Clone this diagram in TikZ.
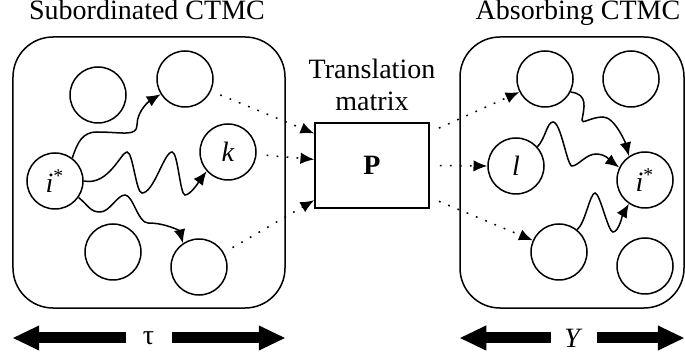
\documentclass[tikz,border=0pt]{standalone}
\usepackage{fontspec}
\setmainfont{Liberation Serif}
\usetikzlibrary{arrows.meta}
\usetikzlibrary{positioning}

\begin{document}
\begin{tikzpicture}[
  x=0.4pt, y=-0.4pt,
  every node/.style={font=\fontsize{11.2pt}{12.8pt}\selectfont},
  state/.style={draw, circle, line width=0.6pt, minimum size=22.4pt, inner sep=0pt},
  chain/.style={draw, line width=0.6pt, rounded corners=16pt, minimum height=108.4pt},
  hop/.style={line width=0.6pt, -{Latex[length=5.5pt,width=4.6pt]}},
  jump/.style={hop, dash pattern=on 0.7pt off 3.3pt, shorten <=4pt},
  span/.style={line width=4.4pt, -{Triangle[length=10.8pt,width=9.2pt]}},
  spanlabel/.style={inner sep=0pt, minimum width=18pt}
]
\useasboundingbox (0,0) rectangle (685,358);

% Chains
\node[chain, minimum width=108.8pt] (lbox) at (149,172.5) {};
\node[chain, minimum width=89.6pt] (rbox) at (572,172.5) {};
\node[anchor=base] (ltitle) at (147,20) {Subordinated CTMC};
\node[anchor=base] (rtitle) at (578,20) {Absorbing CTMC};

% Subordinated chain states
\node[state] (si) at (55,181) {\textit{i}\textsuperscript{*}};
\node[state] (s1) at (98,95) {};
\node[state] (s2) at (185,79) {};
\node[state] (sk) at (228,152) {\textit{k}};
\node[state] (s3) at (113,252) {};
\node[state] (s4) at (199,267) {};

% Absorbing chain states
\node[state] (r1) at (545,79) {};
\node[state] (r2) at (631,79) {};
\node[state] (rl) at (516,166) {\textit{l}};
\node[state] (ri) at (645,180) {\textit{i}\textsuperscript{*}};
\node[state] (r3) at (559,252) {};
\node[state] (r4) at (645,266) {};

% Translation matrix
\node[draw, line width=0.6pt, minimum width=45.6pt, minimum height=34pt] (pm) at (372,165.5) {\textbf{P}};
\node[above=4.4pt of pm, align=center, inner sep=0pt] (plabel) {Translation\\matrix};

% Paths inside the subordinated chain
\draw[hop] (si.53) .. controls +(5,-15) and +(-15,0) .. (97,132)
  .. controls +(25,0) and +(0,12) .. (137,125)
  .. controls +(0,-15) and +(-10,6) .. (s2.212);
\draw[hop] (si.east) .. controls +(25,5) and +(-6,0) .. (127,152)
  .. controls +(6,0) and +(-6,0) .. (142,193)
  .. controls +(12,0) and +(-8,0) .. (172,152)
  .. controls +(6,0) and +(-5,0) .. (185,195)
  .. controls +(6,0) and +(-6,8) .. (sk.222);
\draw[hop] (si.-35) .. controls +(10,8) and +(-10,0) .. (100,212)
  .. controls +(10,0) and +(-8,0) .. (125,195)
  .. controls +(8,0) and +(-10,0) .. (148,223)
  .. controls +(18,0) and +(-3,-12) .. (s4.124);

% Paths inside the absorbing chain
\draw[hop] (r1.-27) .. controls +(18,2) and +(2,-12) .. (582,120)
  .. controls +(-1,5) and +(-12,0) .. (603,117)
  .. controls +(12,0) and +(-3,-12) .. (ri.124);
\draw[hop] (rl.42) .. controls +(8,-8) and +(-6,0) .. (553,122)
  .. controls +(8,0) and +(-5,0) .. (572,166)
  .. controls +(6,0) and +(-10,0) .. (596,154)
  .. controls +(10,0) and +(-8,-6) .. (ri.154);
\draw[hop] (r3.51) .. controls +(8,-6) and +(-5,0) .. (595,193)
  .. controls +(5,0) and +(-5,0) .. (613,232)
  .. controls +(6,0) and +(-6,10) .. (ri.236);

% Translation in and out
\draw[jump] (s2.-25) -- (pm.151);
\draw[jump] (sk.-5) -- (pm.174);
\draw[jump] (s4.30) -- (pm.211);
\draw[jump] (pm.30) -- (r1.207);
\draw[jump] (pm.0) -- (rl.180);
\draw[jump] (pm.-29) -- (r3.156);

% Time spans
\node[spanlabel] (tau) at (148.5,338) {τ};
\node[spanlabel] (dur) at (573.5,338) {\textit{Y}};
\draw[span] (tau.west) -- (tau.west -| lbox.west);
\draw[span] (tau.east) -- (tau.east -| lbox.east);
\draw[span] (dur.west) -- (dur.west -| rbox.west);
\draw[span] (dur.east) -- (dur.east -| rbox.east);
\end{tikzpicture}
\end{document}
